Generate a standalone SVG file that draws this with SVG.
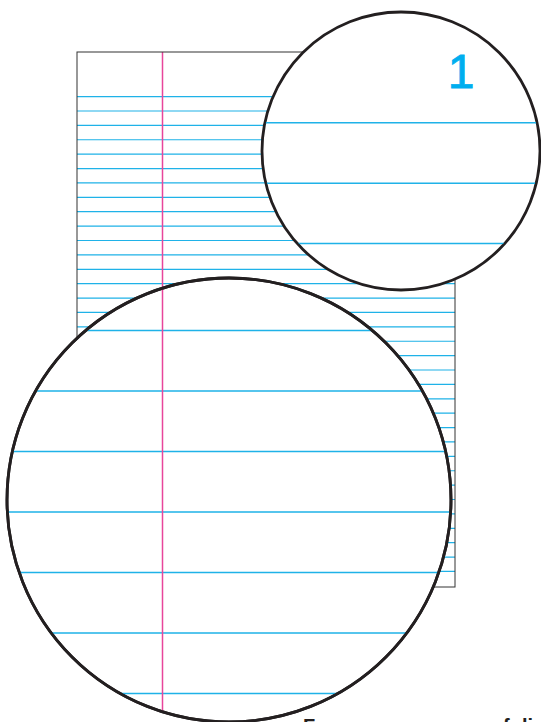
<svg xmlns="http://www.w3.org/2000/svg" width="541" height="722" viewBox="0 0 541 722">
<style>
.rule{stroke:#1fb2e8;fill:none}
.margin{stroke:#e8459b;stroke-width:1.5;fill:none}
.lens{fill:#fff;stroke:#231f20;stroke-width:2.8}
.num{font-family:"Liberation Sans",Arial,sans-serif;font-size:48px;fill:#00aeef;stroke:#00aeef;stroke-width:0.9}
.cap{font-family:"Liberation Sans",Arial,sans-serif;font-size:20px;font-weight:bold;fill:#231f20}
</style>
<defs>
<clipPath id="clipSmall"><circle cx="401" cy="151" r="138"/></clipPath>
<clipPath id="clipBig"><circle cx="229" cy="500" r="221"/></clipPath>
</defs>
<rect width="541" height="722" fill="#fff"/>
<g id="paper">
<path class="rule" stroke-width="1.2" d="M77 96.6H455M77 110.99H455M77 125.38H455M77 139.77H455M77 154.16H455M77 168.55H455M77 182.94H455M77 197.33H455M77 211.72H455M77 226.11H455M77 240.5H455M77 254.89H455M77 269.28H455M77 283.67H455M77 298.06H455M77 312.45H455M77 326.84H455M77 341.23H455M77 355.62H455M77 370.01H455M77 384.4H455M77 398.79H455M77 413.18H455M77 427.57H455M77 441.96H455M77 456.35H455M77 470.74H455M77 485.13H455M77 499.52H455M77 513.91H455M77 528.3H455M77 542.69H455M77 557.08H455M77 571.47H455"/>
<line class="margin" x1="162.5" y1="52" x2="162.5" y2="587"/>
<rect x="77" y="52" width="378" height="535" fill="none" stroke="#333" stroke-width="1"/>
</g>
<g id="zoom-small">
<circle class="lens" cx="401" cy="151" r="139"/>
<g clip-path="url(#clipSmall)">
<path class="rule" stroke-width="1.6" d="M262 122.7H541M262 183.3H541M262 243.5H541"/>
</g>
<text class="num" x="461" y="88" text-anchor="middle">1</text>
</g>
<g id="zoom-big">
<circle class="lens" cx="229" cy="500" r="222"/>
<g clip-path="url(#clipBig)">
<path class="rule" stroke-width="1.6" d="M7 330.5H451M7 391H451M7 451.5H451M7 512H451M7 572.5H451M7 633H451M7 693.5H451"/>
<line class="margin" x1="162.5" y1="278" x2="162.5" y2="722"/>
</g>
<circle cx="229" cy="500" r="222" fill="none" stroke="#231f20" stroke-width="2.8"/>
</g>
<g id="caption">
<text class="cap" x="303" y="733">Formas comunes en folio</text>
</g>
</svg>
